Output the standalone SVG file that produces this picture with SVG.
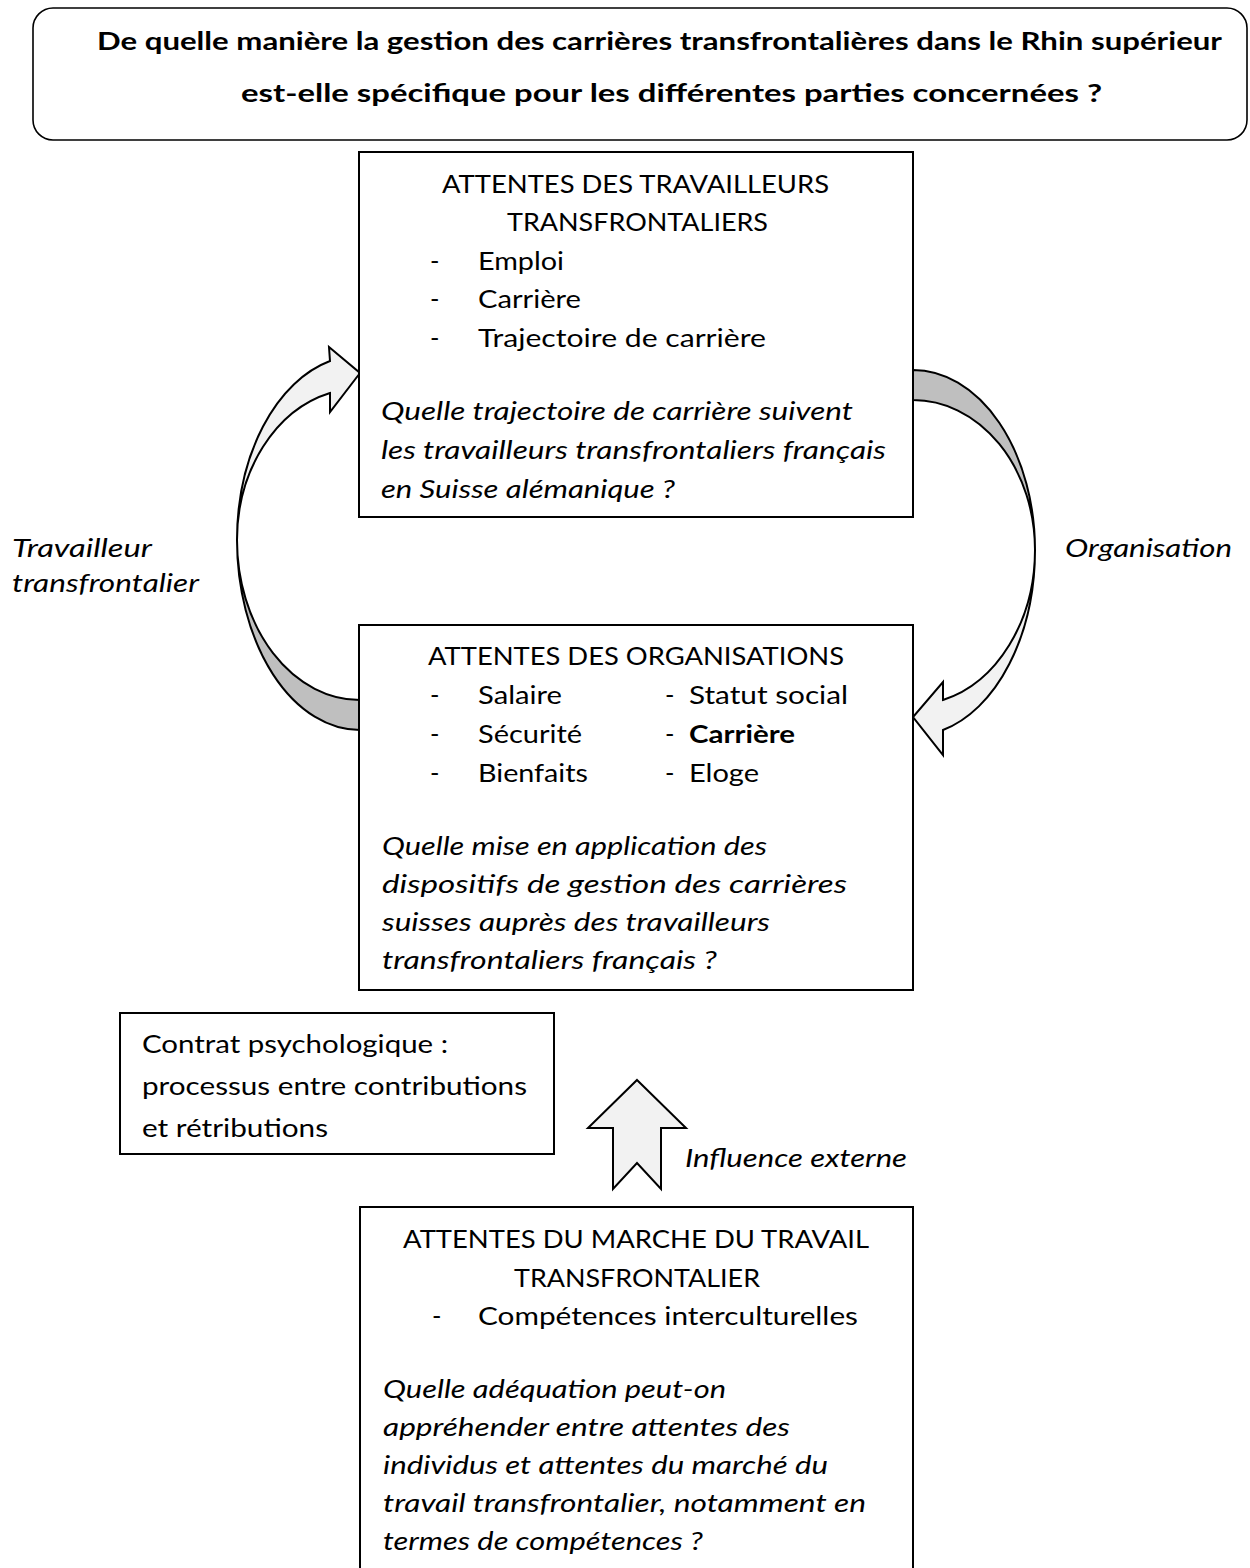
<svg xmlns="http://www.w3.org/2000/svg" width="1250" height="1568" viewBox="0 0 1250 1568">
<style>
.t{font-family:Lato,'Open Sans','Liberation Sans',sans-serif;font-size:25.5px;fill:#000}
.i{font-style:italic}
.b{font-weight:bold}
.box{fill:#fff;stroke:#000;stroke-width:2}
.dark{fill:#bfbfbf;stroke:#000;stroke-width:2;stroke-linejoin:round}
.light{fill:#f2f2f2;stroke:#000;stroke-width:2;stroke-linejoin:miter}
</style>
<rect width="1250" height="1568" fill="#fff"/>

<g id="title">
<rect x="33" y="8" width="1214" height="132" rx="20" ry="20" fill="#fff" stroke="#000" stroke-width="1.6"/>
<text class="t b" x="97" y="50" textLength="1125" lengthAdjust="spacingAndGlyphs">De quelle manière la gestion des carrières transfrontalières dans le Rhin supérieur</text>
<text class="t b" x="241" y="102" textLength="861" lengthAdjust="spacingAndGlyphs">est-elle spécifique pour les différentes parties concernées ?</text>
</g>

<g id="connectors">
<path class="dark" d="M 360,700 A 123 160 0 0 1 237,540 A 123 190 0 0 0 360,730 Z"/>
<path class="light" d="M 237,540 A 123 184.6 0 0 1 330,361 L 329,347 L 360,373 L 330,412 L 330,393 A 123 151.6 0 0 0 237,540 Z"/>
<path class="dark" d="M 913,370 A 122 180 0 0 1 1035,550 A 122 150 0 0 0 913,400 Z"/>
<path class="light" d="M 1035,550 A 122 185.7 0 0 1 943,730 L 943,755 L 913,717 L 943,682 L 943,700 A 122 154.8 0 0 0 1035,550 Z"/>
<path class="light" d="M 637,1080 L 686,1128 L 661,1128 L 661,1189 L 637,1163 L 613,1189 L 613,1128 L 588,1128 Z"/>
<text class="t i" x="12" y="557" textLength="140" lengthAdjust="spacingAndGlyphs">Travailleur</text>
<text class="t i" x="12" y="592" textLength="187" lengthAdjust="spacingAndGlyphs">transfrontalier</text>
<text class="t i" x="1065" y="557" textLength="167" lengthAdjust="spacingAndGlyphs">Organisation</text>
<text class="t i" x="685" y="1167" textLength="222" lengthAdjust="spacingAndGlyphs">Influence externe</text>
</g>

<g id="box-travailleurs">
<rect class="box" x="359" y="152" width="554" height="365"/>
<text class="t" x="442" y="193" textLength="387" lengthAdjust="spacingAndGlyphs">ATTENTES DES TRAVAILLEURS</text>
<text class="t" x="507" y="231" textLength="261" lengthAdjust="spacingAndGlyphs">TRANSFRONTALIERS</text>
<text class="t" x="430" y="270">-</text>
<text class="t" x="478" y="270" textLength="86" lengthAdjust="spacingAndGlyphs">Emploi</text>
<text class="t" x="430" y="308">-</text>
<text class="t" x="478" y="308" textLength="103" lengthAdjust="spacingAndGlyphs">Carrière</text>
<text class="t" x="430" y="347">-</text>
<text class="t" x="478" y="347" textLength="288" lengthAdjust="spacingAndGlyphs">Trajectoire de carrière</text>
<text class="t i" x="381" y="420" textLength="472" lengthAdjust="spacingAndGlyphs">Quelle trajectoire de carrière suivent</text>
<text class="t i" x="381" y="459" textLength="505" lengthAdjust="spacingAndGlyphs">les travailleurs transfrontaliers français</text>
<text class="t i" x="381" y="498" textLength="294" lengthAdjust="spacingAndGlyphs">en Suisse alémanique ?</text>
</g>

<g id="box-organisations">
<rect class="box" x="359" y="625" width="554" height="365"/>
<text class="t" x="428" y="665" textLength="416" lengthAdjust="spacingAndGlyphs">ATTENTES DES ORGANISATIONS</text>
<text class="t" x="430" y="704">-</text>
<text class="t" x="478" y="704" textLength="84" lengthAdjust="spacingAndGlyphs">Salaire</text>
<text class="t" x="665" y="704">-</text>
<text class="t" x="689" y="704" textLength="159" lengthAdjust="spacingAndGlyphs">Statut social</text>
<text class="t" x="430" y="743">-</text>
<text class="t" x="478" y="743" textLength="104" lengthAdjust="spacingAndGlyphs">Sécurité</text>
<text class="t" x="665" y="743">-</text>
<text class="t b" x="689" y="743" textLength="106" lengthAdjust="spacingAndGlyphs">Carrière</text>
<text class="t" x="430" y="782">-</text>
<text class="t" x="478" y="782" textLength="110" lengthAdjust="spacingAndGlyphs">Bienfaits</text>
<text class="t" x="665" y="782">-</text>
<text class="t" x="689" y="782" textLength="70" lengthAdjust="spacingAndGlyphs">Eloge</text>
<text class="t i" x="382" y="855" textLength="385" lengthAdjust="spacingAndGlyphs">Quelle mise en application des</text>
<text class="t i" x="382" y="893" textLength="465" lengthAdjust="spacingAndGlyphs">dispositifs de gestion des carrières</text>
<text class="t i" x="382" y="931" textLength="388" lengthAdjust="spacingAndGlyphs">suisses auprès des travailleurs</text>
<text class="t i" x="382" y="969" textLength="335" lengthAdjust="spacingAndGlyphs">transfrontaliers français ?</text>
</g>

<g id="box-contrat">
<rect class="box" x="120" y="1013" width="434" height="141"/>
<text class="t" x="142" y="1053" textLength="306" lengthAdjust="spacingAndGlyphs">Contrat psychologique :</text>
<text class="t" x="142" y="1095" textLength="385" lengthAdjust="spacingAndGlyphs">processus entre contributions</text>
<text class="t" x="142" y="1137" textLength="186" lengthAdjust="spacingAndGlyphs">et rétributions</text>
</g>

<g id="box-marche">
<rect class="box" x="360" y="1207" width="553" height="375"/>
<text class="t" x="403" y="1248" textLength="466" lengthAdjust="spacingAndGlyphs">ATTENTES DU MARCHE DU TRAVAIL</text>
<text class="t" x="514" y="1287" textLength="246" lengthAdjust="spacingAndGlyphs">TRANSFRONTALIER</text>
<text class="t" x="432" y="1325">-</text>
<text class="t" x="478" y="1325" textLength="380" lengthAdjust="spacingAndGlyphs">Compétences interculturelles</text>
<text class="t i" x="383" y="1398" textLength="343" lengthAdjust="spacingAndGlyphs">Quelle adéquation peut-on</text>
<text class="t i" x="383" y="1436" textLength="407" lengthAdjust="spacingAndGlyphs">appréhender entre attentes des</text>
<text class="t i" x="383" y="1474" textLength="445" lengthAdjust="spacingAndGlyphs">individus et attentes du marché du</text>
<text class="t i" x="383" y="1512" textLength="483" lengthAdjust="spacingAndGlyphs">travail transfrontalier, notamment en</text>
<text class="t i" x="383" y="1550" textLength="320" lengthAdjust="spacingAndGlyphs">termes de compétences ?</text>
</g>
</svg>
